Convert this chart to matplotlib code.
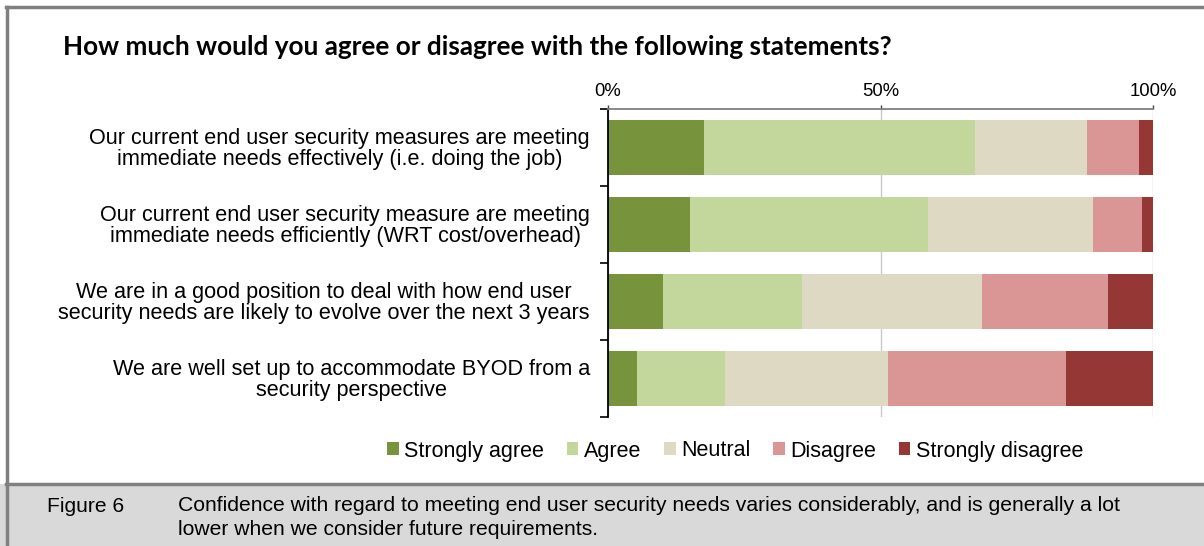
import matplotlib
matplotlib.use("Agg")
import matplotlib.pyplot as plt
from matplotlib.patches import Rectangle
from matplotlib.lines import Line2D

W, H = 1204, 546

statements = [
    "Our current end user security measures are meeting\nimmediate needs effectively (i.e. doing the job)",
    "Our current end user security measure are meeting\nimmediate needs efficiently (WRT cost/overhead)",
    "We are in a good position to deal with how end user\nsecurity needs are likely to evolve over the next 3 years",
    "We are well set up to accommodate BYOD from a\nsecurity perspective",
]
responses = ["Strongly agree", "Agree", "Neutral", "Disagree", "Strongly disagree"]
strongly_agree = [17.7, 15.0, 10.0, 5.4]
agree = [49.6, 43.7, 25.6, 16.0]
neutral = [20.5, 30.3, 33.0, 30.0]
disagree = [9.6, 9.0, 23.2, 32.6]
strongly_disagree = [2.6, 2.0, 8.2, 16.0]
colors = ["#77933C", "#C3D69B", "#DDD9C3", "#D99694", "#953735"]
x_ticks = [0, 50, 100]
x_tick_labels = ["0%", "50%", "100%"]

title = "How much would you agree or disagree with the following statements?"
fig_label = "Figure 6"
caption = ("Confidence with regard to meeting end user security needs varies considerably, and is generally a lot\n"
           "lower when we consider future requirements.")

SANS = ["Liberation Sans", "DejaVu Sans"]

fig = plt.figure(figsize=(W / 100, H / 100), dpi=100)
fig.patch.set_facecolor("white")


def fx(px):
    return px / W


def fy(py):
    return 1 - py / H


# caption band and frame
fig.add_artist(Rectangle((0, 0), 1, fy(484), transform=fig.transFigure,
                         facecolor="#D9D9D9", edgecolor="none", zorder=0))
fig.add_artist(Line2D([fx(6), 1], [fy(484), fy(484)], transform=fig.transFigure,
                      color="#808080", lw=2.5))
fig.add_artist(Line2D([fx(6), 1], [fy(6.5), fy(6.5)], transform=fig.transFigure,
                      color="#808080", lw=2.5))
fig.add_artist(Line2D([fx(6.5), fx(6.5)], [0, fy(6.5)], transform=fig.transFigure,
                      color="#808080", lw=2.5))

ax = fig.add_axes([fx(608), fy(417), fx(1153) - fx(608), fy(109) - fy(417)])

series = [strongly_agree, agree, neutral, disagree, strongly_disagree]
ypos = list(range(len(statements)))
left = [0.0] * len(statements)
for name, vals, col in zip(responses, series, colors):
    ax.barh(ypos, vals, left=left, height=0.714, color=col, label=name,
            edgecolor="none", zorder=2)
    left = [l + v for l, v in zip(left, vals)]

ax.set_xlim(0, 100)
ax.set_ylim(len(statements) - 0.5, -0.5)
ax.xaxis.tick_top()
ax.set_xticks(x_ticks)
ax.set_xticklabels(x_tick_labels, fontsize=13.3, family=SANS)
ax.tick_params(axis="x", direction="out", length=3, width=1, color="#404040", pad=3.5)
ax.xaxis.grid(True, color="#C8C8C8", lw=1, zorder=0)

ax.set_yticks([i - 0.5 for i in range(len(statements) + 1)])
ax.set_yticklabels([])
ax.tick_params(axis="y", direction="out", length=5.5, width=1.2, color="black")

# category labels: right-edged blocks, centred line by line
for i, s in enumerate(statements):
    ax.text(-18 / 5.45, i + 0.02, s, ha="right", va="center", multialignment="center",
            fontsize=15.6, family=SANS, linespacing=1.02,
            transform=ax.transData)

for side in ["right", "bottom"]:
    ax.spines[side].set_visible(False)
ax.spines["top"].set_color("#808080")
ax.spines["top"].set_linewidth(1.3)
ax.spines["left"].set_color("black")
ax.spines["left"].set_linewidth(1.3)

fig.text(fx(63), fy(47), title, fontsize=18.8, fontweight="bold",
         family=["Lato", "DejaVu Sans"], va="center", ha="left")

handles, labels = ax.get_legend_handles_labels()
fig.legend(handles, labels, loc="center", bbox_to_anchor=(fx(735), fy(451)),
           ncol=5, frameon=False, prop={"family": SANS, "size": 15.5},
           handlelength=0.55, handleheight=0.55, handletextpad=0.25,
           columnspacing=1.05)

fig.text(fx(47), fy(506), fig_label, fontsize=15.1, family=SANS, va="center", ha="left")
fig.text(fx(178), fy(517.5), caption, fontsize=15.2, family=SANS, va="center", ha="left",
         linespacing=1.27)

fig.savefig("out.png", dpi=100, facecolor=fig.get_facecolor())
